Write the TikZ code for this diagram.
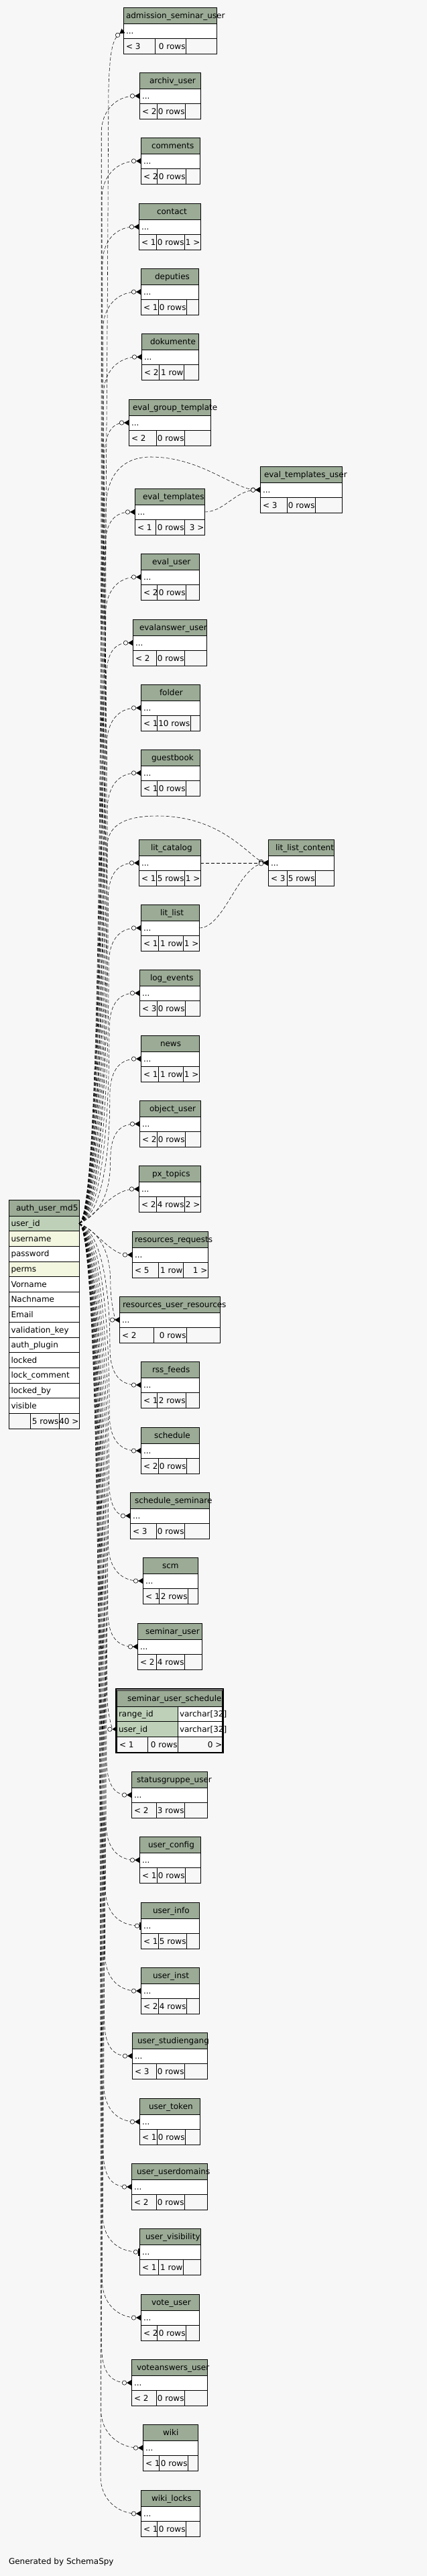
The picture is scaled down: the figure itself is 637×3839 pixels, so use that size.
\documentclass[tikz,border=0pt]{standalone}
\usepackage{fontspec}
\setmainfont{DejaVu Sans}
\usetikzlibrary{arrows.meta}
\definecolor{bg}{HTML}{F7F7F7}
\definecolor{hdr}{HTML}{9BAB96}
\definecolor{pk}{HTML}{BED1B8}
\definecolor{idx}{HTML}{F4F7E0}
\tikzset{
  cell/.style={draw=black, line width=0.8pt},
  box/.style={cell, inner sep=0pt, outer sep=0pt, anchor=north west},
  txt/.style={inner sep=0pt, outer sep=0pt, font=\fontsize{12}{14}\selectfont, text=black},
  rel/.style={draw=black, line width=0.55pt, dash pattern=on 5pt off 3pt},
  crow/.style={-{Circle[fill=white,length=7pt,width=7pt,line width=0.6pt]Triangle[reversed,length=7pt,width=8pt]}},
  zeroone/.style={-{Circle[fill=white,length=7pt,width=7pt,line width=0.6pt]Bar[width=11pt,line width=2pt]}},
}
\newcommand\tbl[6]{\def\Tid{#1}\def\Txl{#2}\def\Txr{#3}\def\Tyt{#4}\def\Ttitle{#5}\def\Ttx{#6}\tblfoot}
\newcommand\tblfoot[5]{%
  \pgfmathsetmacro\Ya{\Tyt+24}%
  \pgfmathsetmacro\Yb{\Tyt+46}%
  \pgfmathsetmacro\Yc{\Tyt+69}%
  \pgfmathsetmacro\Hb{\Tyt+16.5}%
  \pgfmathsetmacro\Rb{\Tyt+39}%
  \pgfmathsetmacro\Fb{\Tyt+62}%
  \pgfmathsetmacro\W{\Txr-\Txl}%
  \pgfmathsetmacro\Xd{\Txl+4}%
  \pgfmathsetmacro\Xr{\Txr-0.5}%
  \pgfmathsetmacro\Xc{#4-0.5}%
  \pgfmathsetmacro\Ty{\Tyt+35}%
  \expandafter\xdef\csname tx@\Tid\endcsname{\Txl}%
  \expandafter\xdef\csname ty@\Tid\endcsname{\Ty}%
  \node[box, fill=hdr, minimum width=\W pt, minimum height=24pt] (\Tid-h) at (\Txl,\Tyt) {};
  \node[box, fill=white, minimum width=\W pt, minimum height=22pt] (\Tid) at (\Txl,\Ya) {};
  \node[box, fill=bg, minimum width=\W pt, minimum height=23pt] (\Tid-f) at (\Txl,\Yb) {};
  \draw[cell] (#2,\Yb) -- (#2,\Yc) (#4,\Yb) -- (#4,\Yc);
  \node[txt, anchor=base west] (\Tid-t) at (\Ttx,\Hb) {\Ttitle};
  \node[txt, anchor=base west] (\Tid-d) at (\Xd,\Rb) {...};
  \node[txt, anchor=base west] (\Tid-l) at (\Xd,\Fb) {#1};
  \node[txt, anchor=base east] (\Tid-n) at (\Xc,\Fb) {#3};
  \if\relax\detokenize{#5}\relax\else\node[txt, anchor=base east] (\Tid-g) at (\Xr,\Fb) {#5};\fi
}
\newcommand\edgeup[2][crow]{%
  \pgfmathsetmacro\ETy{\csname ty@#2\endcsname}%
  \pgfmathsetmacro\ETx{\csname tx@#2\endcsname}%
  \pgfmathsetmacro\EBx{150+16*(\ETy/1823)}%
  \pgfmathsetmacro\EMy{\ETy+55}%
  \pgfmathsetmacro\EMc{\EMy+0.45*(1823-\EMy)}%
  \pgfmathsetmacro\EC{\ETy+22}%
  \pgfmathsetmacro\ECx{max(\EBx+8,\ETx-35)}%
  \draw[rel,#1] (auth-r1.east) .. controls +(35,-15) and (\EBx,\EMc) .. (\EBx,\EMy) .. controls (\EBx,\EC) and (\ECx,\ETy) .. (#2.west);}
\newcommand\edgedn[2][crow]{%
  \pgfmathsetmacro\ETy{\csname ty@#2\endcsname}%
  \pgfmathsetmacro\ETx{\csname tx@#2\endcsname}%
  \pgfmathsetmacro\EBx{150+16*(1-(\ETy-1823)/1925)}%
  \pgfmathsetmacro\EMy{\ETy-55}%
  \pgfmathsetmacro\EMc{\EMy-0.45*(\EMy-1823)}%
  \pgfmathsetmacro\EC{\ETy-22}%
  \pgfmathsetmacro\ECx{max(\EBx+8,\ETx-35)}%
  \draw[rel,#1] (auth-r1.east) .. controls +(35,15) and (\EBx,\EMc) .. (\EBx,\EMy) .. controls (\EBx,\EC) and (\ECx,\ETy) .. (#2.west);}
\begin{document}
\begin{tikzpicture}[x=1pt,y=-1pt]
\fill[bg] (0,0) rectangle (637,3839);
\useasboundingbox (0,0) rectangle (637,3839);

% ---------- auth_user_md5 ----------
\node[box, fill=hdr, minimum width=105pt, minimum height=24pt] (auth-h) at (13,1788) {};
\node[txt, anchor=base west] (auth-t) at (24,1804.5) {auth\_user\_md5};
\foreach \ri/\rn/\rc in {1/user\_id/pk, 2/username/idx, 3/password/white, 4/perms/idx, 5/Vorname/white, 6/Nachname/white, 7/Email/white, 8/validation\_key/white, 9/auth\_plugin/white, 10/locked/white, 11/lock\_comment/white, 12/locked\_by/white, 13/visible/white}{
  \pgfmathsetmacro\ry{1812+22.64*(\ri-1)}
  \pgfmathsetmacro\rb{\ry+15.5}
  \node[box, fill=\rc, minimum width=105pt, minimum height=22.64pt] (auth-r\ri) at (13,\ry) {};
  \node[txt, anchor=base west] (auth-x\ri) at (16.5,\rb) {\rn};
}
\node[box, fill=bg, minimum width=105pt, minimum height=22.7pt] (auth-f) at (13,2106.3) {};
\draw[cell] (45,2106.3) -- (45,2129) (88,2106.3) -- (88,2129);
\node[txt, anchor=base east] (auth-n) at (87.5,2122) {5 rows};
\node[txt, anchor=base east] (auth-g) at (117.5,2122) {40 >};

% ---------- tables ----------
\tbl{adm}{184}{323}{11}{admission\_seminar\_user}{188}{< 3}{231}{0 rows}{277}{}
\tbl{arch}{208}{299}{108}{archiv\_user}{223}{< 2}{234}{0 rows}{276}{}
\tbl{comm}{210}{298}{205}{comments}{226}{< 2}{234}{0 rows}{277}{}
\tbl{cont}{207}{299}{303}{contact}{234}{< 1}{233}{0 rows}{275}{1 >}
\tbl{dep}{210}{296}{400}{deputies}{231}{< 1}{236}{0 rows}{278}{}
\tbl{dok}{211}{296}{497}{dokumente}{224}{< 2}{237}{1 row}{274}{}
\tbl{egt}{192}{314}{595}{eval\_group\_template}{198}{< 2}{233}{0 rows}{275}{}
\tbl{etu}{388}{510}{695}{eval\_templates\_user}{394}{< 3}{428}{0 rows}{470}{}
\tbl{et}{201}{305}{728}{eval\_templates}{213}{< 1}{232}{0 rows}{275}{3 >}
\tbl{eu}{210}{297}{825}{eval\_user}{227}{< 2}{234}{0 rows}{277}{}
\tbl{eau}{198}{308}{923}{evalanswer\_user}{208}{< 2}{233}{0 rows}{275}{}
\tbl{fold}{210}{298}{1020}{folder}{238}{< 1}{234}{10 rows}{284}{}
\tbl{gb}{210}{298}{1117}{guestbook}{226}{< 1}{234}{0 rows}{277}{}
\tbl{llc}{400}{498}{1251}{lit\_list\_content}{411}{< 3}{428}{5 rows}{470}{}
\tbl{lc}{207}{299}{1251}{lit\_catalog}{225}{< 1}{233}{5 rows}{275}{1 >}
\tbl{ll}{210}{297}{1348}{lit\_list}{239}{< 1}{236}{1 row}{273}{1 >}
\tbl{le}{208}{298}{1445}{log\_events}{224}{< 3}{234}{0 rows}{276}{}
\tbl{news}{210}{297}{1543}{news}{239}{< 1}{236}{1 row}{273}{1 >}
\tbl{ou}{208}{299}{1640}{object\_user}{223}{< 2}{234}{0 rows}{276}{}
\tbl{px}{207}{299}{1737}{px\_topics}{227}{< 2}{233}{4 rows}{275}{2 >}
\tbl{rr}{197}{310}{1835}{resources\_requests}{201}{< 5}{236}{1 row}{273}{1 >}
\tbl{rur}{178}{328}{1932}{resources\_user\_resources}{183}{< 2}{229}{0 rows}{278}{}
\tbl{rss}{210}{297}{2029}{rss\_feeds}{227}{< 1}{234}{2 rows}{277}{}
\tbl{sch}{210}{297}{2127}{schedule}{230}{< 2}{236}{0 rows}{278}{}
\tbl{schs}{194}{312}{2224}{schedule\_seminare}{201}{< 3}{233}{0 rows}{275}{}
\tbl{scm}{213}{295}{2321}{scm}{242}{< 1}{237}{2 rows}{280}{}
\tbl{su}{205}{301}{2419}{seminar\_user}{217}{< 2}{233}{4 rows}{275}{}
\tbl{sgu}{196}{309}{2640}{statusgruppe\_user}{204}{< 2}{233}{3 rows}{275}{}
\tbl{uc}{208}{299}{2737}{user\_config}{221}{< 1}{234}{0 rows}{276}{}
\tbl{ui}{210}{297}{2835}{user\_info}{228}{< 1}{236}{5 rows}{278}{}
\tbl{uin}{210}{297}{2932}{user\_inst}{228}{< 2}{236}{4 rows}{278}{}
\tbl{usg}{197}{309}{3029}{user\_studiengang}{205}{< 3}{233}{0 rows}{275}{}
\tbl{ut}{208}{298}{3127}{user\_token}{222}{< 1}{234}{0 rows}{276}{}
\tbl{uud}{196}{309}{3224}{user\_userdomains}{204}{< 2}{233}{0 rows}{275}{}
\tbl{uv}{208}{299}{3321}{user\_visibility}{217}{< 1}{236}{1 row}{273}{}
\tbl{vu}{210}{297}{3419}{vote\_user}{226}{< 2}{234}{0 rows}{277}{}
\tbl{vau}{196}{309}{3516}{voteanswers\_user}{204}{< 2}{233}{0 rows}{275}{}
\tbl{wiki}{213}{295}{3613}{wiki}{243}{< 1}{237}{0 rows}{280}{}
\tbl{wl}{210}{298}{3711}{wiki\_locks}{226}{< 1}{234}{0 rows}{277}{}

% ---------- seminar_user_schedule ----------
\node[box, fill=hdr, minimum width=157.5pt, minimum height=24pt] (sus-h) at (174.3,2519) {};
\node[box, fill=pk, minimum width=90.7pt, minimum height=22.5pt] (sus-r1) at (174.3,2543) {};
\node[box, fill=white, minimum width=66.8pt, minimum height=22.5pt] (sus-v1) at (265,2543) {};
\node[box, fill=pk, minimum width=90.7pt, minimum height=22.5pt] (sus) at (174.3,2565.5) {};
\node[box, fill=white, minimum width=66.8pt, minimum height=22.5pt] (sus-v2) at (265,2565.5) {};
\node[box, fill=bg, minimum width=157.5pt, minimum height=23pt] (sus-f) at (174.3,2588) {};
\draw[cell] (220,2588) -- (220,2611) (265,2588) -- (265,2611);
\node[txt, anchor=base west] (sus-t) at (190,2535.5) {seminar\_user\_schedule};
\node[txt, anchor=base west] (sus-x1) at (177,2558.5) {range\_id};
\node[txt, anchor=base west] (sus-y1) at (268,2558.5) {varchar[32]};
\node[txt, anchor=base west] (sus-x2) at (177,2581) {user\_id};
\node[txt, anchor=base west] (sus-y2) at (268,2581) {varchar[32]};
\node[txt, anchor=base west] (sus-l) at (178,2604) {< 1};
\node[txt, anchor=base east] (sus-n) at (264.5,2604) {0 rows};
\node[txt, anchor=base east] (sus-g) at (331.5,2604) {0 >};
\node[draw=black, line width=2.3pt, inner sep=0pt, outer sep=0pt, anchor=north west, minimum width=159.8pt, minimum height=95.4pt] (sus-b) at (173.2,2516.8) {};
\expandafter\xdef\csname tx@sus\endcsname{174.3}
\expandafter\xdef\csname ty@sus\endcsname{2577}

% ---------- connectors ----------
\draw[rel,crow] (auth-r1.east) .. controls +(35,-15) and (158,900) .. (162,130) .. controls (164,75) and (168,58) .. (adm.west);
\edgeup{arch}
\edgeup{comm}
\edgeup{cont}
\edgeup{dep}
\edgeup{dok}
\edgeup{egt}
\edgeup{et}
\edgeup{eu}
\edgeup{eau}
\edgeup{fold}
\edgeup{gb}
\edgeup{lc}
\edgeup{ll}
\edgeup{le}
\edgeup{news}
\edgeup{ou}
\draw[rel,crow] (auth-r1.east) .. controls (150,1805) and (170,1772) .. (px.west);
\draw[rel,crow] (auth-r1.east) .. controls (145,1835) and (165,1870) .. (rr.west);
\edgedn{rur}
\edgedn{rss}
\edgedn{sch}
\edgedn{schs}
\edgedn{scm}
\edgedn{su}
\edgedn{sus}
\edgedn{sgu}
\edgedn{uc}
\edgedn[zeroone]{ui}
\edgedn{uin}
\edgedn{usg}
\edgedn{ut}
\edgedn{uud}
\edgedn[zeroone]{uv}
\edgedn{vu}
\edgedn{vau}
\edgedn{wiki}
\edgedn{wl}
% eval_templates_user
\draw[rel,crow] (auth-r1.east) .. controls +(35,-15) and (158,1240) .. (158,760) .. controls (158,700) and (190,681) .. (225,681) .. controls (300,681) and (350,730) .. (etu.west);
\draw[rel,crow] (et.east) .. controls (335,763) and (350,731) .. (etu.west);
% lit_list_content
\draw[rel,crow] (auth-r1.east) .. controls +(35,-15) and (160,1560) .. (160,1262) .. controls (160,1225) and (195,1216) .. (235,1216) .. controls (335,1216) and (375,1282) .. (llc.west);
\draw[rel,crow] (lc.east) -- (llc.west);
\draw[rel,crow] (ll.east) .. controls (335,1383) and (355,1290) .. (llc.west);

\node[txt, anchor=base west] (gen) at (13,3821) {Generated by SchemaSpy};
\end{tikzpicture}
\end{document}
